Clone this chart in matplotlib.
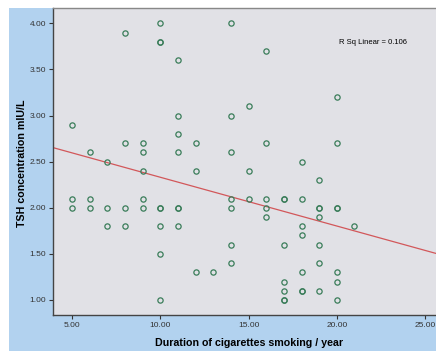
import numpy as np
import matplotlib
matplotlib.use('Agg')
import matplotlib.pyplot as plt
from matplotlib.patches import Rectangle

plt.rcParams['font.family'] = ['Liberation Sans', 'DejaVu Sans']

# duration of smoking (years) and TSH (mIU/L)
years = [5, 5, 5,
         6, 6, 6,
         7, 7, 7,
         8, 8, 8, 8,
         9, 9, 9, 9, 9,
         10, 10, 10, 10, 10, 10, 10, 10,
         11, 11, 11, 11, 11, 11, 11,
         12, 12, 12,
         13,
         14, 14, 14, 14, 14, 14, 14,
         15, 15, 15,
         16, 16, 16, 16, 16,
         17, 17, 17, 17, 17, 17, 17,
         18, 18, 18, 18, 18, 18, 18,
         19, 19, 19, 19, 19, 19, 19,
         20, 20, 20, 20, 20, 20, 20,
         21]
tsh = [2.9, 2.1, 2.0,
       2.6, 2.1, 2.0,
       2.5, 2.0, 1.8,
       3.9, 2.7, 2.0, 1.8,
       2.7, 2.6, 2.4, 2.1, 2.0,
       4.0, 3.8, 3.8, 2.0, 2.0, 1.8, 1.5, 1.0,
       3.6, 3.0, 2.8, 2.6, 2.0, 2.0, 1.8,
       2.7, 2.4, 1.3,
       1.3,
       4.0, 3.0, 2.6, 2.1, 2.0, 1.6, 1.4,
       3.1, 2.4, 2.1,
       3.7, 2.7, 2.1, 2.0, 1.9,
       2.1, 2.1, 1.6, 1.2, 1.1, 1.0, 1.0,
       2.5, 2.1, 1.8, 1.7, 1.3, 1.1, 1.1,
       2.3, 2.0, 2.0, 1.9, 1.6, 1.4, 1.1,
       3.2, 2.7, 2.0, 2.0, 1.3, 1.2, 1.0,
       1.8]
xticks = [5, 10, 15, 20, 25]
yticks = [1.0, 1.5, 2.0, 2.5, 3.0, 3.5, 4.0]
r_sq_text = 'R Sq Linear = 0.106'

x = np.array(years, dtype=float)
y = np.array(tsh)
slope, intercept = np.polyfit(x, y, 1)

fig = plt.figure(figsize=(4.36, 3.51), dpi=100)
fig.patch.set_facecolor('white')
fig.patches.append(Rectangle((9 / 436, 0), 1, 1 - 8 / 351, transform=fig.transFigure,
                             facecolor='#b2d2ef', edgecolor='none', zorder=-5))

ax = fig.add_axes([53 / 436, 1 - 315 / 351, 1 - 53 / 436, (315 - 8) / 351])
ax.set_zorder(2)
ax.set_facecolor('#e1e1e6')
ax.set_xlim(3.92, 25.62)
ax.set_ylim(0.837, 4.166)

ax.plot(x, y, 'o', mfc='none', mec='#3a7d5a', ms=3.8, mew=0.9, zorder=3)
xl = np.array(ax.get_xlim())
ax.plot(xl, intercept + slope * xl, color='#d2575a', lw=0.9, zorder=2)

ax.set_xticks(xticks)
ax.set_xticklabels([f'{v:.2f}' for v in xticks])
ax.set_yticks(yticks)
ax.set_yticklabels([f'{v:.2f}' for v in yticks])
ax.tick_params(labelsize=6, colors='#333333', length=3, width=0.8, pad=2)

for s in ['left', 'bottom']:
    ax.spines[s].set_color('#444444')
    ax.spines[s].set_linewidth(1.0)
ax.spines['top'].set_color('#888888')
ax.spines['top'].set_linewidth(1.0)
ax.spines['right'].set_visible(False)

fig.text(249 / 436, 1 - 343 / 351, 'Duration of cigarettes smoking / year',
         ha='center', va='center', fontsize=7.7, fontweight='bold', zorder=3)
fig.text(22 / 436, 1 - 163 / 351, 'TSH concentration mIU/L', rotation=90,
         ha='center', va='center', fontsize=7.7, fontweight='bold', zorder=3)
fig.text(339 / 436, 1 - 42 / 351, r_sq_text, ha='left', va='center',
         fontsize=5.5, zorder=3)

fig.savefig('out.png', dpi=100, facecolor=fig.get_facecolor())
